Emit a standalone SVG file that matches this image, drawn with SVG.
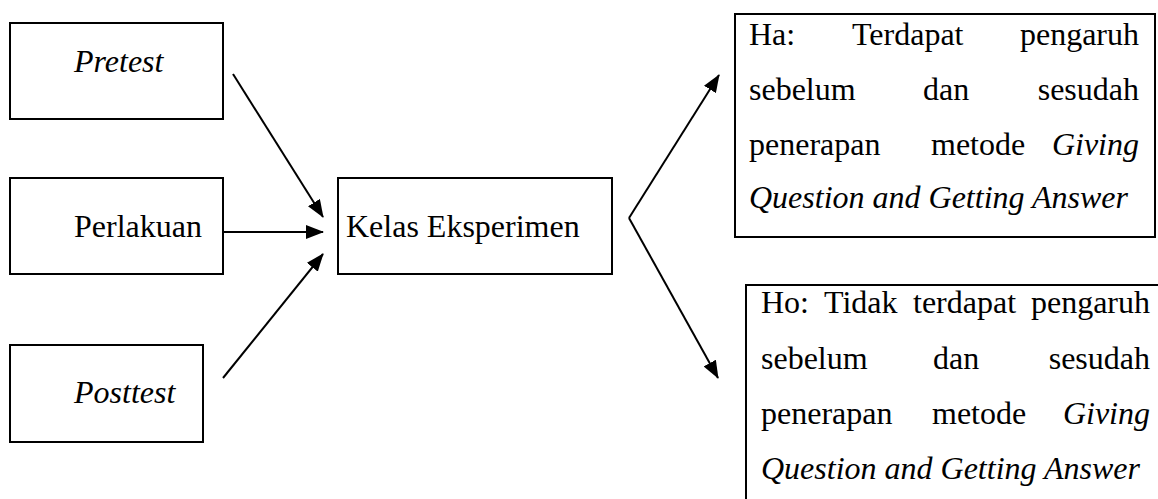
<svg xmlns="http://www.w3.org/2000/svg" width="1158" height="499" viewBox="0 0 1158 499">
<style>
.box{fill:#fff;stroke:#000;stroke-width:2}
.t{font-family:"Liberation Serif","Times New Roman",serif;font-size:32px;fill:#000}
.i{font-style:italic}
.e{text-anchor:end}
.c{fill:none;stroke:#000;stroke-width:2}
</style>
<defs>
<marker id="ah" markerUnits="userSpaceOnUse" markerWidth="18" markerHeight="14" viewBox="0 0 18 14" refX="17" refY="7" orient="auto">
<path d="M0,0 L18,7 L0,14 z" fill="#000"/>
</marker>
</defs>
<rect width="1158" height="499" fill="#fff"/>
<g id="pretest">
<rect class="box" x="10" y="23" width="213" height="96"/>
<text class="t i" x="74" y="72">Pretest</text>
</g>
<g id="perlakuan">
<rect class="box" x="10" y="178" width="213" height="96"/>
<text class="t" x="74" y="237">Perlakuan</text>
</g>
<g id="posttest">
<rect class="box" x="10" y="345" width="193" height="97"/>
<text class="t i" x="74" y="403">Posttest</text>
</g>
<g id="kelas">
<rect class="box" x="338" y="178" width="274" height="96"/>
<text class="t" x="346" y="237">Kelas Eksperimen</text>
</g>
<g id="ha">
<rect class="box" x="735" y="14" width="420" height="223"/>
<text class="t" x="749" y="45">Ha:</text>
<text class="t" x="852" y="45">Terdapat</text>
<text class="t e" x="1139" y="45">pengaruh</text>
<text class="t" x="749" y="100">sebelum</text>
<text class="t" x="923" y="100">dan</text>
<text class="t e" x="1139" y="100">sesudah</text>
<text class="t" x="749" y="155">penerapan</text>
<text class="t" x="931" y="155">metode</text>
<text class="t i e" x="1139" y="155">Giving</text>
<text class="t i" x="749" y="208">Question and Getting Answer</text>
</g>
<g id="ho">
<rect class="box" x="746" y="285" width="420" height="230"/>
<text class="t" x="761" y="313">Ho:</text>
<text class="t" x="824" y="313">Tidak</text>
<text class="t" x="913" y="313">terdapat</text>
<text class="t e" x="1150" y="313">pengaruh</text>
<text class="t" x="761" y="369">sebelum</text>
<text class="t" x="933" y="369">dan</text>
<text class="t e" x="1150" y="369">sesudah</text>
<text class="t" x="761" y="424">penerapan</text>
<text class="t" x="932" y="424">metode</text>
<text class="t i e" x="1150" y="424">Giving</text>
<text class="t i" x="761" y="479">Question and Getting Answer</text>
</g>
<g id="connectors">
<path class="c" d="M233,74 L323,217" marker-end="url(#ah)"/>
<path class="c" d="M223,232 L323,232" marker-end="url(#ah)"/>
<path class="c" d="M223,378 L323,254" marker-end="url(#ah)"/>
<path class="c" d="M629,218 L719,75" marker-end="url(#ah)"/>
<path class="c" d="M629,218 L718,378" marker-end="url(#ah)"/>
</g>
</svg>
